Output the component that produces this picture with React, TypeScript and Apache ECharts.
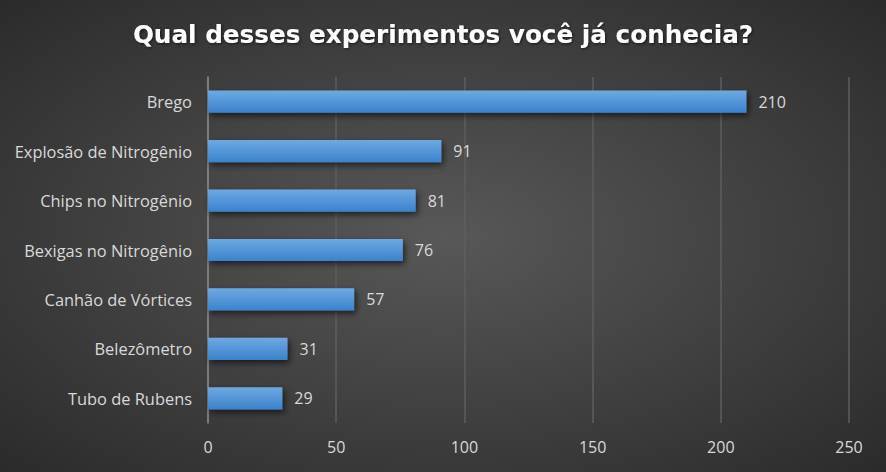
import React, { useEffect, useRef } from "react";
import * as echarts from "echarts";

const categories = [
  "Tubo de Rubens",
  "Belezômetro",
  "Canhão de Vórtices",
  "Bexigas no Nitrogênio",
  "Chips no Nitrogênio",
  "Explosão de Nitrogênio",
  "Brego",
];
const values = [29, 31, 57, 76, 81, 91, 210];
const titleText = "Qual desses experimentos você já conhecia?";

export default function App() {
  const ref = useRef<HTMLDivElement>(null);
  useEffect(() => {
    document.body.style.margin = "0";
    const chart = echarts.init(ref.current!, null, { renderer: "svg" });
    chart.setOption({
      animation: false,
      backgroundColor: {
        type: "radial",
        x: 0.5,
        y: 0.5,
        r: 0.75,
        colorStops: [
          { offset: 0, color: "#585858" },
          { offset: 1, color: "#282828" },
        ],
      },
      title: {
        text: titleText,
        left: "center",
        top: 17,
        textStyle: {
          color: "#ffffff",
          fontFamily: "DejaVu Sans",
          fontWeight: "bold",
          fontSize: 24.7,
          textShadowColor: "rgba(0,0,0,0.6)",
          textShadowBlur: 3,
          textShadowOffsetX: 1,
          textShadowOffsetY: 1,
        },
      },
      grid: { left: 208, right: 37, top: 77, bottom: 49, containLabel: false },
      xAxis: {
        type: "value",
        min: 0,
        max: 250,
        interval: 50,
        axisLine: { show: false },
        axisTick: { show: false },
        splitLine: { lineStyle: { color: "#5e5e5e", width: 1.5 } },
        axisLabel: {
          color: "#d9d9d9",
          fontFamily: "Open Sans",
          fontSize: 16,
          margin: 16,
        },
      },
      yAxis: {
        type: "category",
        data: categories,
        axisLine: { show: true, lineStyle: { color: "#8a8a8a", width: 1.5 } },
        axisTick: { show: false },
        axisLabel: {
          color: "#d9d9d9",
          fontFamily: "Open Sans",
          fontSize: 16.4,
          margin: 16,
        },
      },
      series: [
        {
          type: "bar",
          data: values,
          barCategoryGap: "55%",
          itemStyle: {
            color: {
              type: "linear",
              x: 0,
              y: 0,
              x2: 0,
              y2: 1,
              colorStops: [
                { offset: 0, color: "#6ea9e2" },
                { offset: 1, color: "#3b82cc" },
              ],
            },
            shadowColor: "rgba(0,0,0,0.6)",
            shadowBlur: 6,
            shadowOffsetX: 2,
            shadowOffsetY: 3,
          },
          label: {
            show: true,
            position: "right",
            distance: 12,
            color: "#d9d9d9",
            fontFamily: "Open Sans",
            fontSize: 16,
          },
        },
      ],
    });
    return () => chart.dispose();
  }, []);
  return <div ref={ref} style={{ width: 886, height: 472 }} />;
}
